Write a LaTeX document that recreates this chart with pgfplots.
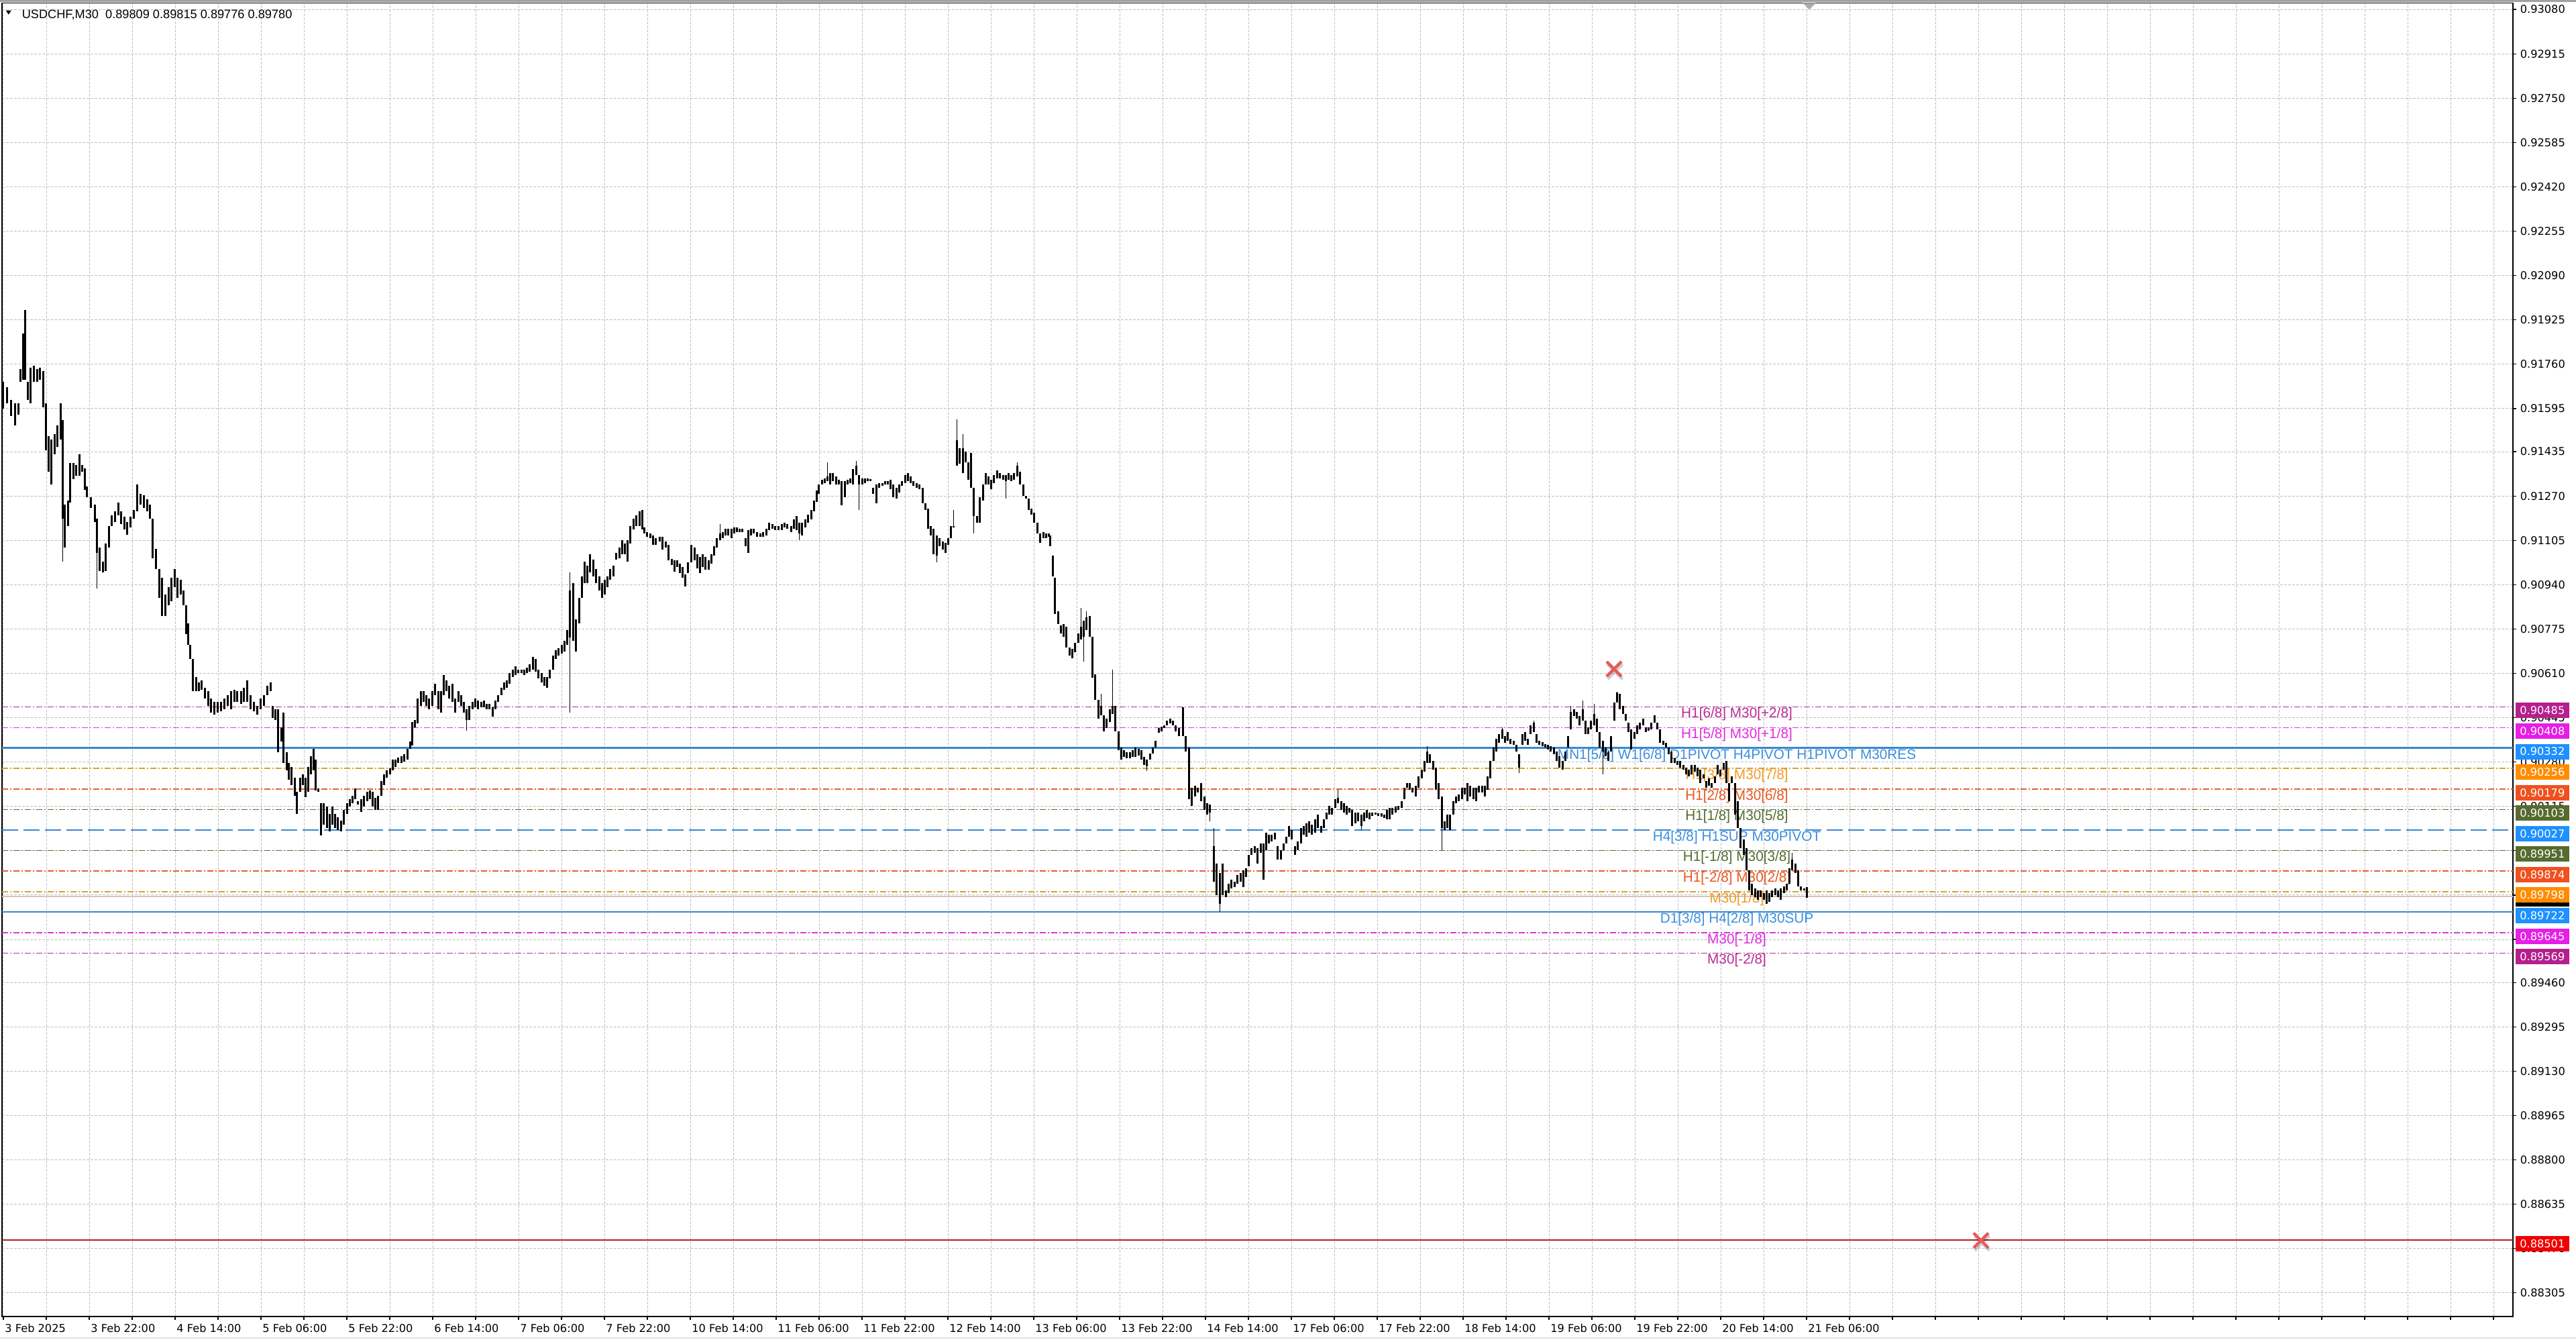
\documentclass[border=0pt]{standalone}
\usepackage{pgfplots}
\pgfplotsset{compat=1.18}
\usepackage{pgfplotstable}
\usepackage{fontspec}
\setmainfont{Liberation Sans}
\newfontfamily\dvs{DejaVu Sans}
\newfontfamily\arl{Liberation Sans}

% level colours (line / text / price box)
\definecolor{lnA}{HTML}{A63398}\definecolor{txA}{HTML}{BE2A95}\definecolor{bxA}{HTML}{B51F8E}
\definecolor{lnB}{HTML}{D43AD4}\definecolor{txB}{HTML}{E22BE2}\definecolor{bxB}{HTML}{E61EE6}
\definecolor{lnBl}{HTML}{3A87CF}\definecolor{txBl}{HTML}{3B8FDE}\definecolor{bxBl}{HTML}{1E90FF}
\definecolor{lnOr}{HTML}{DAA030}\definecolor{txOr}{HTML}{F29A24}\definecolor{bxOr}{HTML}{FF8C00}
\definecolor{lnOR}{HTML}{DD6233}\definecolor{txOR}{HTML}{E8561E}\definecolor{bxOR}{HTML}{F0501E}
\definecolor{olv}{HTML}{556B2F}
\definecolor{curgray}{HTML}{C8C8C8}
\definecolor{redln}{HTML}{B22222}\definecolor{redbx}{HTML}{F00000}
\definecolor{xred}{HTML}{E55B5B}
\definecolor{gridc}{HTML}{C0C0C0}

\tikzset{
  mtdd/.style={dash pattern=on 2.25pt off 0.75pt on 0.5pt off 0.75pt},
  lbl/.style={inner sep=0pt, yshift=-2.75pt, font=\arl\fontsize{5.19}{6}\selectfont},
  pbox/.style={anchor=west, inner sep=0pt, minimum width=20pt, minimum height=5.75pt,
    text=white, font=\dvs\fontsize{4.05}{4.5}\selectfont},
}

% USDCHF M30 bars: x = bar index, h = high, l = low
\pgfplotstableread{
x h l
0.0 0.91694 0.91594
1.4 0.91674 0.91614
2.9 0.91627 0.91567
4.4 0.91614 0.91533
5.6 0.91614 0.91573
6.4 0.91741 0.91694
7.3 0.91875 0.91701
8.2 0.91961 0.91701
9.2 0.91694 0.91627
10.2 0.91747 0.91614
11.3 0.91754 0.91694
12.5 0.91741 0.91694
13.7 0.91747 0.91701
14.8 0.91734 0.91600
15.9 0.91614 0.91440
16.8 0.91493 0.91359
17.9 0.91480 0.91313
19.0 0.91500 0.91426
20.2 0.91533 0.91453
21.3 0.91614 0.91480
22.0 0.91553 0.91185
22.9 0.91239 0.91078
24.0 0.91252 0.91159
24.8 0.91393 0.91246
26.0 0.91393 0.91333
27.1 0.91386 0.91346
28.3 0.91426 0.91346
29.4 0.91386 0.91359
30.3 0.91373 0.91292
31.2 0.91306 0.91266
32.7 0.91266 0.91226
34.0 0.91239 0.91172
34.9 0.91185 0.91058
35.8 0.91078 0.90991
37.0 0.91025 0.90985
38.2 0.91092 0.90991
39.3 0.91159 0.91078
40.4 0.91199 0.91159
41.6 0.91212 0.91172
42.8 0.91246 0.91199
43.9 0.91212 0.91165
45.1 0.91192 0.91145
46.2 0.91172 0.91125
47.4 0.91192 0.91152
48.7 0.91219 0.91185
49.9 0.91313 0.91212
51.1 0.91279 0.91239
52.3 0.91272 0.91226
53.6 0.91259 0.91212
54.6 0.91239 0.91185
55.7 0.91185 0.91038
56.9 0.91072 0.90998
58.0 0.90998 0.90891
59.2 0.90965 0.90824
60.4 0.90904 0.90824
61.5 0.90931 0.90864
62.7 0.90965 0.90878
63.8 0.90998 0.90931
64.9 0.90965 0.90891
66.1 0.90958 0.90904
67.2 0.90918 0.90864
68.0 0.90864 0.90757
68.9 0.90797 0.90717
69.6 0.90717 0.90664
70.7 0.90664 0.90543
71.8 0.90597 0.90543
72.8 0.90577 0.90543
73.9 0.90583 0.90550
75.1 0.90557 0.90516
76.4 0.90543 0.90490
77.4 0.90516 0.90463
78.7 0.90503 0.90456
79.9 0.90503 0.90463
81.1 0.90503 0.90470
82.3 0.90516 0.90476
83.6 0.90530 0.90490
84.8 0.90543 0.90476
86.0 0.90550 0.90503
87.2 0.90543 0.90503
88.5 0.90543 0.90496
89.7 0.90557 0.90503
90.9 0.90583 0.90503
92.1 0.90530 0.90476
93.4 0.90503 0.90470
94.6 0.90490 0.90456
95.8 0.90516 0.90476
97.0 0.90530 0.90490
98.3 0.90563 0.90530
99.5 0.90577 0.90543
100.4 0.90490 0.90443
101.3 0.90476 0.90436
102.4 0.90476 0.90316
103.5 0.90409 0.90356
104.4 0.90463 0.90276
105.5 0.90316 0.90249
106.4 0.90276 0.90215
107.4 0.90262 0.90195
108.5 0.90222 0.90155
109.4 0.90169 0.90088
110.5 0.90222 0.90169
111.6 0.90235 0.90195
112.6 0.90222 0.90149
113.6 0.90262 0.90169
114.6 0.90302 0.90235
115.6 0.90329 0.90249
116.3 0.90289 0.90175
117.4 0.90182 0.90169
118.3 0.90128 0.90008
119.4 0.90128 0.90048
120.5 0.90115 0.90035
121.5 0.90088 0.90021
122.6 0.90115 0.90048
123.7 0.90088 0.90035
124.7 0.90075 0.90028
125.8 0.90062 0.90021
126.9 0.90102 0.90048
128.0 0.90128 0.90088
129.0 0.90142 0.90115
130.1 0.90155 0.90128
131.2 0.90182 0.90142
132.2 0.90135 0.90122
133.3 0.90142 0.90095
134.4 0.90155 0.90115
135.5 0.90169 0.90135
136.5 0.90175 0.90142
137.6 0.90169 0.90115
138.7 0.90148 0.90102
139.7 0.90155 0.90102
140.8 0.90209 0.90155
141.9 0.90235 0.90195
142.9 0.90249 0.90222
144.0 0.90256 0.90235
145.1 0.90289 0.90249
146.2 0.90289 0.90262
147.2 0.90296 0.90276
148.3 0.90302 0.90276
149.4 0.90309 0.90282
150.5 0.90329 0.90289
151.5 0.90356 0.90329
152.3 0.90429 0.90342
153.4 0.90436 0.90409
154.4 0.90516 0.90423
155.5 0.90543 0.90490
156.6 0.90543 0.90503
157.7 0.90530 0.90490
158.7 0.90516 0.90476
159.8 0.90543 0.90490
160.9 0.90570 0.90530
162.0 0.90543 0.90476
163.0 0.90543 0.90463
164.1 0.90603 0.90530
165.2 0.90583 0.90543
166.2 0.90563 0.90516
167.3 0.90570 0.90503
168.4 0.90516 0.90463
169.5 0.90543 0.90503
170.5 0.90530 0.90490
171.6 0.90503 0.90463
172.7 0.90476 0.90436
173.7 0.90490 0.90436
174.8 0.90503 0.90476
175.9 0.90516 0.90483
176.9 0.90510 0.90476
178.0 0.90503 0.90483
179.1 0.90510 0.90483
180.2 0.90496 0.90476
181.2 0.90496 0.90476
182.3 0.90483 0.90450
183.4 0.90510 0.90476
184.4 0.90530 0.90503
185.5 0.90557 0.90530
186.6 0.90577 0.90550
187.7 0.90583 0.90557
188.7 0.90610 0.90570
189.8 0.90623 0.90597
190.9 0.90637 0.90603
191.9 0.90623 0.90610
193.0 0.90623 0.90610
194.1 0.90623 0.90603
195.2 0.90630 0.90610
196.2 0.90644 0.90617
197.3 0.90670 0.90623
198.4 0.90664 0.90617
199.4 0.90623 0.90590
200.5 0.90610 0.90577
201.6 0.90597 0.90563
202.7 0.90597 0.90557
203.7 0.90623 0.90590
204.8 0.90677 0.90623
205.9 0.90697 0.90664
206.9 0.90704 0.90677
208.0 0.90717 0.90684
209.1 0.90731 0.90690
210.2 0.90771 0.90717
211.2 0.90918 0.90744
212.3 0.90945 0.90731
213.4 0.90811 0.90690
214.5 0.90891 0.90797
215.5 0.90971 0.90891
216.6 0.91025 0.90945
217.7 0.91011 0.90945
218.7 0.91052 0.90985
219.8 0.91032 0.90971
220.9 0.90998 0.90945
222.0 0.90971 0.90918
223.0 0.90945 0.90891
224.1 0.90958 0.90904
225.2 0.90971 0.90931
226.2 0.90998 0.90958
227.3 0.91011 0.90971
228.4 0.91058 0.91032
229.5 0.91078 0.91038
230.5 0.91105 0.91052
231.6 0.91092 0.91052
232.7 0.91105 0.91025
233.7 0.91159 0.91092
234.8 0.91185 0.91145
235.9 0.91199 0.91159
237.0 0.91212 0.91159
238.0 0.91219 0.91145
238.9 0.91154 0.91130
239.9 0.91136 0.91118
241.1 0.91130 0.91112
242.2 0.91124 0.91089
243.2 0.91112 0.91089
244.5 0.91118 0.91101
245.7 0.91118 0.91071
246.8 0.91101 0.91077
247.8 0.91089 0.91030
249.1 0.91036 0.91012
250.1 0.91030 0.90989
251.0 0.91030 0.91006
252.1 0.91018 0.90983
253.2 0.91006 0.90965
254.1 0.90977 0.90933
255.2 0.91024 0.90983
256.3 0.91089 0.91024
257.5 0.91077 0.91030
258.6 0.91053 0.91000
259.5 0.91042 0.90983
260.5 0.91053 0.91006
261.6 0.91042 0.90995
262.8 0.91030 0.90995
263.9 0.91053 0.91018
264.8 0.91083 0.91048
265.9 0.91112 0.91077
267.0 0.91130 0.91106
268.0 0.91136 0.91112
269.1 0.91148 0.91124
270.2 0.91148 0.91124
271.3 0.91148 0.91112
272.3 0.91154 0.91130
273.3 0.91154 0.91136
274.3 0.91148 0.91136
275.4 0.91148 0.91136
276.5 0.91112 0.91083
277.5 0.91142 0.91059
278.6 0.91148 0.91124
279.7 0.91148 0.91130
280.9 0.91136 0.91118
282.0 0.91130 0.91118
283.0 0.91136 0.91118
284.3 0.91148 0.91124
285.3 0.91171 0.91142
286.6 0.91165 0.91148
287.6 0.91159 0.91142
288.9 0.91159 0.91142
290.0 0.91165 0.91142
291.2 0.91171 0.91154
292.2 0.91165 0.91148
293.5 0.91159 0.91136
294.5 0.91183 0.91148
295.6 0.91195 0.91142
296.7 0.91171 0.91130
297.7 0.91171 0.91124
298.8 0.91183 0.91154
299.9 0.91201 0.91171
301.1 0.91218 0.91183
302.0 0.91254 0.91212
303.0 0.91289 0.91248
303.9 0.91313 0.91277
305.0 0.91330 0.91313
306.0 0.91336 0.91318
307.1 0.91342 0.91324
308.2 0.91354 0.91313
309.2 0.91354 0.91324
310.3 0.91342 0.91313
311.4 0.91330 0.91313
312.4 0.91324 0.91236
313.5 0.91324 0.91265
314.6 0.91330 0.91313
315.7 0.91336 0.91318
316.7 0.91371 0.91313
317.8 0.91383 0.91348
318.9 0.91348 0.91313
320.0 0.91336 0.91313
321.0 0.91336 0.91318
322.1 0.91336 0.91324
323.2 0.91333 0.91324
324.2 0.91301 0.91277
325.3 0.91313 0.91242
326.4 0.91318 0.91301
327.5 0.91318 0.91307
328.5 0.91324 0.91313
329.6 0.91324 0.91313
330.7 0.91330 0.91295
331.7 0.91313 0.91265
332.8 0.91301 0.91260
333.9 0.91313 0.91283
334.9 0.91324 0.91307
336.0 0.91348 0.91318
337.1 0.91354 0.91324
338.2 0.91342 0.91318
339.2 0.91324 0.91307
340.3 0.91318 0.91301
341.4 0.91313 0.91295
342.5 0.91301 0.91242
343.5 0.91242 0.91218
344.6 0.91224 0.91148
345.7 0.91159 0.91124
346.7 0.91148 0.91053
347.8 0.91124 0.91048
348.9 0.91112 0.91083
350.0 0.91101 0.91071
351.0 0.91095 0.91059
352.1 0.91112 0.91089
353.2 0.91159 0.91112
354.2 0.91159 0.91154
355.3 0.91478 0.91383
356.4 0.91448 0.91389
357.5 0.91448 0.91354
358.5 0.91436 0.91395
359.6 0.91395 0.91330
360.7 0.91430 0.91301
361.7 0.91301 0.91195
362.8 0.91195 0.91171
363.9 0.91265 0.91171
365.0 0.91313 0.91254
366.0 0.91354 0.91313
367.1 0.91342 0.91313
368.2 0.91330 0.91295
369.2 0.91348 0.91318
370.3 0.91366 0.91336
371.4 0.91354 0.91336
372.5 0.91348 0.91330
373.5 0.91348 0.91324
374.6 0.91354 0.91330
375.7 0.91348 0.91324
376.7 0.91354 0.91330
377.8 0.91383 0.91342
378.9 0.91360 0.91313
380.0 0.91313 0.91271
381.0 0.91271 0.91260
382.1 0.91260 0.91218
383.2 0.91224 0.91201
384.2 0.91207 0.91171
385.3 0.91171 0.91130
386.4 0.91130 0.91095
387.5 0.91136 0.91112
388.5 0.91130 0.91112
389.6 0.91130 0.91118
390.2 0.91124 0.91083
391.1 0.91048 0.90971
391.9 0.90965 0.90830
393.0 0.90841 0.90794
394.0 0.90788 0.90759
395.1 0.90794 0.90747
396.2 0.90783 0.90706
397.3 0.90706 0.90677
398.3 0.90700 0.90665
399.4 0.90724 0.90688
400.5 0.90759 0.90724
401.6 0.90783 0.90735
402.6 0.90806 0.90747
403.7 0.90818 0.90771
404.8 0.90824 0.90747
405.8 0.90747 0.90594
406.9 0.90606 0.90512
408.0 0.90512 0.90441
409.0 0.90488 0.90453
410.1 0.90453 0.90394
411.2 0.90441 0.90406
412.3 0.90476 0.90429
413.3 0.90488 0.90459
414.4 0.90488 0.90394
415.5 0.90394 0.90323
416.5 0.90335 0.90288
417.6 0.90323 0.90299
418.7 0.90317 0.90294
419.8 0.90317 0.90294
420.8 0.90323 0.90299
421.9 0.90335 0.90299
423.0 0.90329 0.90305
424.0 0.90323 0.90288
425.1 0.90299 0.90270
426.2 0.90288 0.90264
427.3 0.90311 0.90288
428.3 0.90335 0.90311
429.4 0.90358 0.90335
430.5 0.90406 0.90388
431.5 0.90411 0.90394
432.6 0.90417 0.90406
433.7 0.90435 0.90417
434.8 0.90441 0.90423
435.8 0.90435 0.90417
436.9 0.90417 0.90394
438.0 0.90406 0.90376
439.5 0.90484 0.90376
440.6 0.90376 0.90318
441.8 0.90334 0.90143
442.9 0.90184 0.90118
444.1 0.90193 0.90151
445.2 0.90184 0.90168
446.4 0.90201 0.90135
447.5 0.90151 0.90101
448.5 0.90126 0.90085
449.5 0.90122 0.90093
451.0 0.89968 0.89835
452.1 0.89902 0.89785
453.3 0.89868 0.89752
454.4 0.89902 0.89785
455.6 0.89802 0.89777
456.7 0.89827 0.89793
457.7 0.89843 0.89810
458.8 0.89835 0.89814
459.9 0.89860 0.89827
461.0 0.89868 0.89835
462.0 0.89877 0.89814
463.1 0.89885 0.89852
464.2 0.89935 0.89893
465.2 0.89960 0.89935
466.3 0.89968 0.89943
467.4 0.89960 0.89902
468.5 0.89976 0.89943
469.5 0.89976 0.89843
470.6 0.90018 0.89951
471.7 0.90010 0.89976
472.7 0.90010 0.89985
473.8 0.90018 0.89993
474.9 0.89968 0.89918
476.0 0.89951 0.89918
477.0 0.89976 0.89951
478.1 0.90001 0.89976
479.2 0.90043 0.90001
480.2 0.90026 0.89993
481.3 0.89968 0.89935
482.4 0.89985 0.89951
483.5 0.90035 0.89976
484.5 0.90043 0.90010
485.6 0.90051 0.90001
486.7 0.90060 0.90018
487.7 0.90047 0.90010
488.8 0.90068 0.90018
489.9 0.90085 0.90035
491.0 0.90043 0.90018
492.0 0.90068 0.90035
493.1 0.90093 0.90068
494.2 0.90118 0.90085
495.2 0.90110 0.90085
496.3 0.90143 0.90110
497.4 0.90147 0.90126
498.5 0.90135 0.90101
499.5 0.90126 0.90093
500.6 0.90118 0.90085
501.7 0.90110 0.90093
502.7 0.90101 0.90043
503.8 0.90093 0.90051
504.9 0.90093 0.90060
506.0 0.90085 0.90043
507.0 0.90093 0.90060
508.1 0.90101 0.90072
509.2 0.90093 0.90068
510.2 0.90093 0.90080
511.3 0.90093 0.90085
512.4 0.90089 0.90080
513.5 0.90089 0.90076
514.5 0.90085 0.90072
515.6 0.90101 0.90068
516.7 0.90110 0.90068
517.7 0.90110 0.90085
518.8 0.90114 0.90093
519.9 0.90118 0.90101
521.0 0.90135 0.90110
522.0 0.90184 0.90143
523.1 0.90201 0.90184
524.2 0.90201 0.90176
525.2 0.90184 0.90168
526.3 0.90193 0.90151
527.4 0.90226 0.90184
528.5 0.90251 0.90218
529.5 0.90284 0.90243
530.6 0.90318 0.90276
531.7 0.90309 0.90276
532.8 0.90284 0.90251
533.8 0.90259 0.90176
534.9 0.90201 0.90143
536.0 0.90151 0.90035
537.0 0.90060 0.90026
538.1 0.90085 0.90035
539.2 0.90085 0.90026
540.3 0.90135 0.90085
541.3 0.90151 0.90126
542.4 0.90159 0.90135
543.5 0.90184 0.90143
544.5 0.90184 0.90159
545.6 0.90201 0.90135
546.7 0.90193 0.90151
547.8 0.90184 0.90143
548.8 0.90184 0.90135
549.9 0.90193 0.90168
551.0 0.90193 0.90168
552.0 0.90193 0.90151
553.1 0.90226 0.90176
554.2 0.90284 0.90218
555.3 0.90334 0.90284
556.3 0.90367 0.90318
557.4 0.90384 0.90351
558.5 0.90401 0.90367
559.5 0.90376 0.90351
560.6 0.90392 0.90359
561.7 0.90367 0.90347
562.8 0.90359 0.90343
563.8 0.90343 0.90318
564.9 0.90309 0.90259
566.0 0.90384 0.90343
567.0 0.90392 0.90359
568.1 0.90367 0.90343
569.2 0.90417 0.90384
570.3 0.90426 0.90392
571.3 0.90384 0.90351
572.4 0.90359 0.90343
573.5 0.90355 0.90338
574.5 0.90347 0.90334
575.6 0.90343 0.90326
576.7 0.90338 0.90318
577.8 0.90334 0.90309
578.8 0.90318 0.90284
579.9 0.90301 0.90259
581.0 0.90284 0.90251
582.0 0.90318 0.90284
583.1 0.90376 0.90334
584.2 0.90467 0.90401
585.3 0.90476 0.90451
586.3 0.90467 0.90442
587.4 0.90451 0.90417
588.5 0.90476 0.90434
589.6 0.90434 0.90384
590.6 0.90409 0.90384
591.7 0.90434 0.90401
592.8 0.90459 0.90417
593.8 0.90442 0.90392
594.9 0.90392 0.90334
596.0 0.90359 0.90318
597.0 0.90334 0.90301
598.1 0.90318 0.90284
599.2 0.90376 0.90318
600.3 0.90501 0.90434
601.3 0.90538 0.90501
602.4 0.90534 0.90476
603.5 0.90488 0.90459
604.6 0.90459 0.90434
605.6 0.90426 0.90392
606.7 0.90401 0.90326
607.8 0.90392 0.90367
608.8 0.90417 0.90384
609.9 0.90426 0.90401
611.0 0.90442 0.90417
612.1 0.90409 0.90392
613.1 0.90409 0.90397
614.2 0.90426 0.90401
615.3 0.90455 0.90426
616.3 0.90426 0.90401
617.4 0.90401 0.90351
618.5 0.90359 0.90343
619.6 0.90351 0.90334
620.6 0.90334 0.90309
621.7 0.90318 0.90276
622.8 0.90293 0.90276
623.8 0.90284 0.90268
624.9 0.90284 0.90259
626.0 0.90268 0.90251
627.1 0.90259 0.90234
628.1 0.90251 0.90226
629.2 0.90268 0.90234
630.3 0.90268 0.90243
631.4 0.90259 0.90226
632.4 0.90251 0.90201
633.5 0.90234 0.90218
634.6 0.90209 0.90184
635.6 0.90218 0.90193
636.7 0.90201 0.90184
637.8 0.90226 0.90201
638.9 0.90268 0.90234
639.9 0.90251 0.90226
641.0 0.90276 0.90251
642.1 0.90284 0.90201
643.1 0.90201 0.90135
644.2 0.90226 0.90201
645.3 0.90201 0.90085
646.4 0.90135 0.90035
647.4 0.90035 0.89960
648.5 0.89993 0.89935
649.6 0.89960 0.89877
650.6 0.89877 0.89802
651.7 0.89827 0.89785
652.8 0.89810 0.89777
653.9 0.89802 0.89768
654.9 0.89802 0.89777
656.0 0.89793 0.89768
657.1 0.89802 0.89752
658.1 0.89793 0.89760
659.2 0.89802 0.89777
660.3 0.89810 0.89785
661.4 0.89802 0.89777
662.4 0.89810 0.89768
663.5 0.89818 0.89793
664.6 0.89827 0.89802
665.6 0.89885 0.89827
666.7 0.89918 0.89877
667.8 0.89902 0.89868
668.9 0.89877 0.89818
669.9 0.89818 0.89802
671.0 0.89810 0.89802
672.1 0.89815 0.89776
}\candles

% long wicks
\pgfplotstableread{
x h l
22.0 0.91553 0.91025
34.9 0.91185 0.90925
172.7 0.90476 0.90396
211.2 0.90985 0.90463
267.0 0.91165 0.91106
296.7 0.91171 0.91106
307.1 0.91395 0.91324
317.8 0.91401 0.91348
318.9 0.91348 0.91218
347.8 0.91124 0.91024
354.2 0.91218 0.91154
355.3 0.91554 0.91383
357.5 0.91501 0.91354
361.7 0.91301 0.91130
373.5 0.91348 0.91260
377.8 0.91395 0.91342
401.6 0.90853 0.90735
402.6 0.90806 0.90653
403.7 0.90841 0.90771
409.0 0.90535 0.90453
413.3 0.90623 0.90459
426.2 0.90288 0.90247
449.5 0.90122 0.90060
451.0 0.90035 0.89835
453.3 0.89868 0.89723
497.4 0.90176 0.90126
506.0 0.90085 0.90026
530.6 0.90338 0.90276
536.0 0.90151 0.89951
558.5 0.90409 0.90367
564.9 0.90309 0.90239
570.3 0.90434 0.90392
584.2 0.90488 0.90401
588.5 0.90509 0.90434
592.8 0.90497 0.90417
596.0 0.90359 0.90234
601.3 0.90542 0.90501
666.7 0.89943 0.89877
}\wicks

\begin{document}
\begin{tikzpicture}
\useasboundingbox (0,0) rectangle (960pt,499pt);
\fill[white] (0,0) rectangle (960pt,499pt);
\fill[black!37] (0,498.2pt) rectangle (960pt,499pt);
\draw[black!12, line width=0.5pt] (0,0.4pt) -- (960pt,0.4pt);

\begin{axis}[
  at={(0.75pt,8.5pt)}, anchor=south west,
  width=935.75pt, height=489.375pt, scale only axis,
  xmin=-0.5, xmax=935.25, ymin=0.88217, ymax=0.93104,
  axis line style={black, line width=0.4pt},
  tick align=outside, major tick length=1.2pt,
  tick style={black, line width=0.3pt},
  xtick pos=left, ytick pos=right, yticklabel pos=right,
  xtick={0,16,...,928},
  xticklabels={3 Feb 2025,,3 Feb 22:00,,4 Feb 14:00,,5 Feb 06:00,,5 Feb 22:00,,6 Feb 14:00,,7 Feb 06:00,,7 Feb 22:00,,10 Feb 14:00,,11 Feb 06:00,,11 Feb 22:00,,12 Feb 14:00,,13 Feb 06:00,,13 Feb 22:00,,14 Feb 14:00,,17 Feb 06:00,,17 Feb 22:00,,18 Feb 14:00,,19 Feb 06:00,,19 Feb 22:00,,20 Feb 14:00,,21 Feb 06:00},
  ytick={0.93080,0.92915,0.92750,0.92585,0.92420,0.92255,0.92090,0.91925,0.91760,0.91595,0.91435,0.91270,0.91105,0.90940,0.90775,0.90610,0.90445,0.90280,0.90115,0.89950,0.89785,0.89620,0.89460,0.89295,0.89130,0.88965,0.88800,0.88635,0.88470,0.88305},
  yticklabels={0.93080,0.92915,0.92750,0.92585,0.92420,0.92255,0.92090,0.91925,0.91760,0.91595,0.91435,0.91270,0.91105,0.90940,0.90775,0.90610,0.90445,0.90280,0.90115,0.89950,0.89785,0.89620,0.89460,0.89295,0.89130,0.88965,0.88800,0.88635,0.88470,0.88305},
  tick label style={font=\dvs\fontsize{4.05}{4.5}\selectfont, black},
  xticklabel style={anchor=north west, inner sep=0pt, xshift=0.4pt, yshift=-1.4pt},
  yticklabel style={anchor=west, inner sep=0pt, xshift=1.3pt},
  grid=major,
  major grid style={gridc, line width=0.25pt, dash pattern=on 1pt off 0.5pt},
]

% level lines
\addplot[lnA, line width=0.4pt, mtdd] coordinates {(-0.5,0.90485) (935.25,0.90485)};
\addplot[lnB, line width=0.4pt, mtdd] coordinates {(-0.5,0.90408) (935.25,0.90408)};
\addplot[lnBl, line width=0.75pt] coordinates {(-0.5,0.90332) (935.25,0.90332)};
\addplot[lnOr, line width=0.4pt, mtdd] coordinates {(-0.5,0.90256) (935.25,0.90256)};
\addplot[lnOR, line width=0.4pt, mtdd] coordinates {(-0.5,0.90179) (935.25,0.90179)};
\addplot[olv, line width=0.4pt, mtdd] coordinates {(-0.5,0.90103) (935.25,0.90103)};
\addplot[lnBl, line width=0.4pt, dash pattern=on 6pt off 2pt] coordinates {(-0.5,0.90027) (935.25,0.90027)};
\addplot[olv, line width=0.4pt, mtdd] coordinates {(-0.5,0.89951) (935.25,0.89951)};
\addplot[lnOR, line width=0.4pt, mtdd] coordinates {(-0.5,0.89874) (935.25,0.89874)};
\addplot[lnOr, line width=0.4pt, mtdd] coordinates {(-0.5,0.89798) (935.25,0.89798)};
\addplot[curgray, line width=0.35pt] coordinates {(-0.5,0.89780) (935.25,0.89780)};
\addplot[lnBl, line width=0.4pt] coordinates {(-0.5,0.89722) (935.25,0.89722)};
\addplot[lnB, line width=0.4pt, mtdd] coordinates {(-0.5,0.89645) (935.25,0.89645)};
\addplot[lnA, line width=0.4pt, mtdd] coordinates {(-0.5,0.89569) (935.25,0.89569)};
\addplot[redln, line width=0.45pt] coordinates {(-0.5,0.88501) (935.25,0.88501)};

% level captions
\node[lbl, text=txA] at (axis cs:646,0.90485) {H1[6/8] M30[+2/8]};
\node[lbl, text=txB] at (axis cs:646,0.90408) {H1[5/8] M30[+1/8]};
\node[lbl, text=txBl] at (axis cs:646,0.90332) {MN1[5/8] W1[6/8] D1PIVOT H4PIVOT H1PIVOT M30RES};
\node[lbl, text=txOr] at (axis cs:646,0.90256) {H1[3/8] M30[7/8]};
\node[lbl, text=txOR] at (axis cs:646,0.90179) {H1[2/8] M30[6/8]};
\node[lbl, text=olv] at (axis cs:646,0.90103) {H1[1/8] M30[5/8]};
\node[lbl, text=txBl] at (axis cs:646,0.90027) {H4[3/8] H1SUP M30PIVOT};
\node[lbl, text=olv] at (axis cs:646,0.89951) {H1[-1/8] M30[3/8]};
\node[lbl, text=txOR] at (axis cs:646,0.89874) {H1[-2/8] M30[2/8]};
\node[lbl, text=txOr] at (axis cs:646,0.89798) {M30[1/8]};
\node[lbl, text=txBl] at (axis cs:646,0.89722) {D1[3/8] H4[2/8] M30SUP};
\node[lbl, text=txB] at (axis cs:646,0.89645) {M30[-1/8]};
\node[lbl, text=txA] at (axis cs:646,0.89569) {M30[-2/8]};

% price bars
\addplot[draw=none, mark=none, forget plot,
  error bars/y dir=plus, error bars/y explicit, error bars/error mark=none,
  error bars/error bar style={draw=black, line width=0.25pt}]
  table[x=x, y=l, y error expr=\thisrow{h}-\thisrow{l}] {\wicks};
\addplot[draw=none, mark=none, forget plot,
  error bars/y dir=plus, error bars/y explicit, error bars/error mark=none,
  error bars/error bar style={draw=black, line width=0.75pt}]
  table[x=x, y=l, y error expr=\thisrow{h}-\thisrow{l}] {\candles};

% red cross markers
\addplot[only marks, mark=x, mark size=3.9pt,
  mark options={line width=1.1pt, draw=black, opacity=0.18, xshift=0.4pt, yshift=-1pt}]
  coordinates {(600.25,0.90626) (737,0.88500)};
\addplot[only marks, mark=x, mark size=3.9pt, mark options={line width=1.1pt, draw=xred}]
  coordinates {(600.25,0.90626) (737,0.88500)};

\coordinate (bA) at (axis cs:935.25,0.90485);
\coordinate (bB) at (axis cs:935.25,0.90408);
\coordinate (bC) at (axis cs:935.25,0.90332);
\coordinate (bD) at (axis cs:935.25,0.90256);
\coordinate (bE) at (axis cs:935.25,0.90179);
\coordinate (bF) at (axis cs:935.25,0.90103);
\coordinate (bG) at (axis cs:935.25,0.90027);
\coordinate (bH) at (axis cs:935.25,0.89951);
\coordinate (bI) at (axis cs:935.25,0.89874);
\coordinate (bJ) at (axis cs:935.25,0.89798);
\coordinate (bK) at (axis cs:935.25,0.89780);
\coordinate (bL) at (axis cs:935.25,0.89722);
\coordinate (bM) at (axis cs:935.25,0.89645);
\coordinate (bN) at (axis cs:935.25,0.89569);
\coordinate (bO) at (axis cs:935.25,0.88501);
\coordinate (shiftmark) at (axis cs:673,0.93104);
\end{axis}

% price boxes on the right scale
\node[pbox, fill=black] at ([xshift=0.75pt, yshift=-1pt]bK) {0.89780};
\node[pbox, fill=bxA] at ([xshift=0.75pt, yshift=-1.3pt]bA) {0.90485};
\node[pbox, fill=bxB] at ([xshift=0.75pt, yshift=-1.3pt]bB) {0.90408};
\node[pbox, fill=bxBl] at ([xshift=0.75pt, yshift=-1.3pt]bC) {0.90332};
\node[pbox, fill=bxOr] at ([xshift=0.75pt, yshift=-1.3pt]bD) {0.90256};
\node[pbox, fill=bxOR] at ([xshift=0.75pt, yshift=-1.3pt]bE) {0.90179};
\node[pbox, fill=olv] at ([xshift=0.75pt, yshift=-1.3pt]bF) {0.90103};
\node[pbox, fill=bxBl] at ([xshift=0.75pt, yshift=-1.3pt]bG) {0.90027};
\node[pbox, fill=olv] at ([xshift=0.75pt, yshift=-1.3pt]bH) {0.89951};
\node[pbox, fill=bxOR] at ([xshift=0.75pt, yshift=-1.3pt]bI) {0.89874};
\node[pbox, fill=bxOr] at ([xshift=0.75pt, yshift=-1.3pt]bJ) {0.89798};
\node[pbox, fill=bxBl] at ([xshift=0.75pt, yshift=-1.3pt]bL) {0.89722};
\node[pbox, fill=bxB] at ([xshift=0.75pt, yshift=-1.3pt]bM) {0.89645};
\node[pbox, fill=bxA] at ([xshift=0.75pt, yshift=-1.3pt]bN) {0.89569};
\node[pbox, fill=redbx] at ([xshift=0.75pt, yshift=-1.3pt]bO) {0.88501};

% chart shift marker and title
\fill[black!33] ([xshift=-2.4pt]shiftmark) -- ([xshift=2.4pt]shiftmark) -- ([yshift=-2.5pt]shiftmark) -- cycle;
\fill[black] (2.2pt,495.1pt) -- (4.2pt,495.1pt) -- (3.2pt,493.6pt) -- cycle;
\node[anchor=base west, inner sep=0pt, font=\arl\fontsize{4.55}{5}\selectfont]
  at (8pt,492.1pt) {USDCHF,M30\ \ 0.89809 0.89815 0.89776 0.89780};
\end{tikzpicture}
\end{document}
